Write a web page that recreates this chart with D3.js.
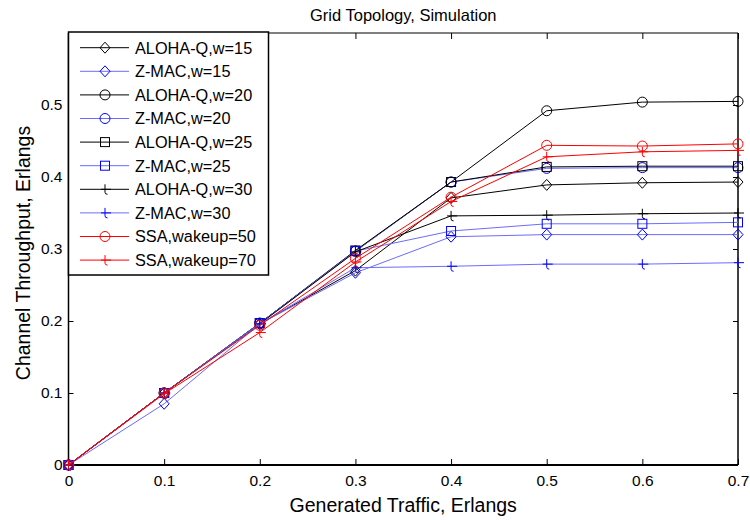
<!DOCTYPE html>
<html>
<head>
<meta charset="utf-8">
<script src="https://cdn.jsdelivr.net/npm/d3@7"></script>
<style>
  body { margin: 0; background: #fff; }
  svg { display: block; font-family: "Liberation Sans", Arial, sans-serif; }
</style>
</head>
<body>
<div id="chart"></div>
<script>
const traffic = [0, 0.1, 0.2, 0.3, 0.4, 0.5, 0.6, 0.7];
const xTicks = [0, 0.1, 0.2, 0.3, 0.4, 0.5, 0.6, 0.7];
const yTicks = [0, 0.1, 0.2, 0.3, 0.4, 0.5];

const alohaW15 = [0, 0.100, 0.196, 0.270, 0.371, 0.389, 0.392, 0.393];
const zmacW15  = [0, 0.085, 0.196, 0.267, 0.317, 0.320, 0.320, 0.320];
const alohaW20 = [0, 0.100, 0.197, 0.297, 0.393, 0.492, 0.504, 0.505];
const zmacW20  = [0, 0.100, 0.197, 0.297, 0.393, 0.412, 0.413, 0.413];
const alohaW25 = [0, 0.100, 0.197, 0.298, 0.393, 0.414, 0.415, 0.415];
const zmacW25  = [0, 0.100, 0.197, 0.297, 0.325, 0.335, 0.335, 0.337];
const alohaW30 = [0, 0.100, 0.196, 0.296, 0.346, 0.347, 0.349, 0.350];
const zmacW30  = [0, 0.100, 0.196, 0.274, 0.276, 0.279, 0.279, 0.281];
const ssaWake50 = [0, 0.100, 0.194, 0.287, 0.372, 0.444, 0.443, 0.446];
const ssaWake70 = [0, 0.099, 0.184, 0.282, 0.366, 0.428, 0.435, 0.437];

const seriesNames = ['ALOHA-Q,w=15', 'Z-MAC,w=15', 'ALOHA-Q,w=20', 'Z-MAC,w=20', 'ALOHA-Q,w=25',
                     'Z-MAC,w=25', 'ALOHA-Q,w=30', 'Z-MAC,w=30', 'SSA,wakeup=50', 'SSA,wakeup=70'];
const seriesValues = [alohaW15, zmacW15, alohaW20, zmacW20, alohaW25, zmacW25, alohaW30, zmacW30, ssaWake50, ssaWake70];
const seriesMarkers = ['diamond', 'diamond', 'circle', 'circle', 'square', 'square', 'plus', 'plus', 'circle', 'plus'];
const seriesColors = ['black', 'blue', 'black', 'blue', 'black', 'blue', 'black', 'blue', 'red', 'red'];

const width = 750, height = 520;
const margin = ({top: 33, right: 12, bottom: 55, left: 68.5});

const colorMap = { black: { line: '#000', mark: '#000' }, blue: { line: '#6b6bff', mark: '#0000ff' }, red: { line: '#ff0000', mark: '#ff0000' } };

const svg = d3.select('#chart')
  .append('svg')
  .attr('width', width)
  .attr('height', height);

const x = d3.scaleLinear().domain([0, 0.7]).range([margin.left, width - margin.right]);
const y = d3.scaleLinear().domain([0, 0.6]).range([height - margin.bottom, margin.top]);

// ticks point inward on all four sides
svg.append('g')
  .attr('transform', `translate(0,${y(0)})`)
  .call(d3.axisBottom(x).tickValues(xTicks).tickFormat(d3.format('')).tickSizeInner(-6).tickSizeOuter(0).tickPadding(10))
  .call(g => g.select('.domain').remove())
  .call(g => g.selectAll('.tick text').attr('font-size', 15.5).attr('fill', '#000').attr('font-family', null));

svg.append('g')
  .attr('transform', `translate(0,${y(0.6)})`)
  .call(d3.axisTop(x).tickValues(xTicks).tickSizeInner(-6).tickSizeOuter(0).tickFormat(''))
  .call(g => g.select('.domain').remove());

svg.append('g')
  .attr('transform', `translate(${x(0)},0)`)
  .call(d3.axisLeft(y).tickValues(yTicks).tickFormat(d3.format('')).tickSizeInner(-5).tickSizeOuter(0).tickPadding(6))
  .call(g => g.select('.domain').remove())
  .call(g => g.selectAll('.tick text').attr('font-size', 15.5).attr('fill', '#000').attr('font-family', null));

svg.append('g')
  .attr('transform', `translate(${x(0.7)},0)`)
  .call(d3.axisRight(y).tickValues(yTicks).tickSizeInner(-5).tickSizeOuter(0).tickFormat(''))
  .call(g => g.select('.domain').remove());

// frame
svg.append('line').attr('x1', x(0)).attr('x2', x(0.7)).attr('y1', y(0.6)).attr('y2', y(0.6)).attr('stroke', '#000').attr('stroke-width', 1);
svg.append('line').attr('x1', x(0)).attr('x2', x(0.7)).attr('y1', y(0)).attr('y2', y(0)).attr('stroke', '#000').attr('stroke-width', 2);
svg.append('line').attr('x1', x(0)).attr('x2', x(0)).attr('y1', y(0)).attr('y2', y(0.6)).attr('stroke', '#000').attr('stroke-width', 1.5);
svg.append('line').attr('x1', x(0.7)).attr('x2', x(0.7)).attr('y1', y(0)).attr('y2', y(0.6)).attr('stroke', '#000').attr('stroke-width', 1.5);

function marker(g, type, color) {
  g.attr('fill', 'none').attr('stroke', color).attr('stroke-width', 1);
  if (type === 'diamond') g.append('path').attr('d', 'M0,-5.5L5,0L0,5.5L-5,0Z');
  else if (type === 'circle') g.append('circle').attr('r', 5);
  else if (type === 'square') g.append('rect').attr('x', -4.5).attr('y', -4.5).attr('width', 9).attr('height', 9);
  else g.append('path').attr('d', 'M0,-5V3Q0,5 2.5,5M-4,0H6');
}

const line = d3.line()
  .x((d, i) => x(traffic[i]))
  .y(d => y(d));

const plot = svg.append('g');
seriesValues.forEach((vals, k) => {
  const c = colorMap[seriesColors[k]];
  plot.append('path')
    .attr('d', line(vals))
    .attr('fill', 'none')
    .attr('stroke', c.line)
    .attr('stroke-width', 1);
  vals.forEach((v, i) => {
    plot.append('g')
      .attr('transform', `translate(${x(traffic[i])},${y(v)})`)
      .call(g => marker(g, seriesMarkers[k], c.mark));
  });
});

// legend
const legend = svg.append('g');
legend.append('rect')
  .attr('x', x(0)).attr('y', 32)
  .attr('width', 200).attr('height', 243)
  .attr('fill', '#fff').attr('stroke', '#000').attr('stroke-width', 1.5);

seriesNames.forEach((name, k) => {
  const c = colorMap[seriesColors[k]];
  const ly = 47.7 + k * 23.6;
  legend.append('line')
    .attr('x1', 80).attr('x2', 129).attr('y1', ly).attr('y2', ly)
    .attr('stroke', c.line).attr('stroke-width', 1);
  legend.append('g')
    .attr('transform', `translate(105,${ly})`)
    .call(g => marker(g, seriesMarkers[k], c.mark));
  legend.append('text')
    .attr('x', 135).attr('y', ly)
    .attr('dy', '0.36em')
    .attr('font-size', 16.3)
    .text(name);
});

svg.append('text')
  .attr('x', (x(0) + x(0.7)) / 2).attr('y', 21)
  .attr('text-anchor', 'middle')
  .attr('font-size', 16.5)
  .text('Grid Topology, Simulation');

svg.append('text')
  .attr('x', (x(0) + x(0.7)) / 2).attr('y', 512)
  .attr('text-anchor', 'middle')
  .attr('font-size', 19.5)
  .text('Generated Traffic, Erlangs');

svg.append('text')
  .attr('transform', `translate(30,${(y(0) + y(0.6)) / 2 + 4}) rotate(-90)`)
  .attr('text-anchor', 'middle')
  .attr('font-size', 19.5)
  .text('Channel Throughput, Erlangs');
</script>
</body>
</html>
